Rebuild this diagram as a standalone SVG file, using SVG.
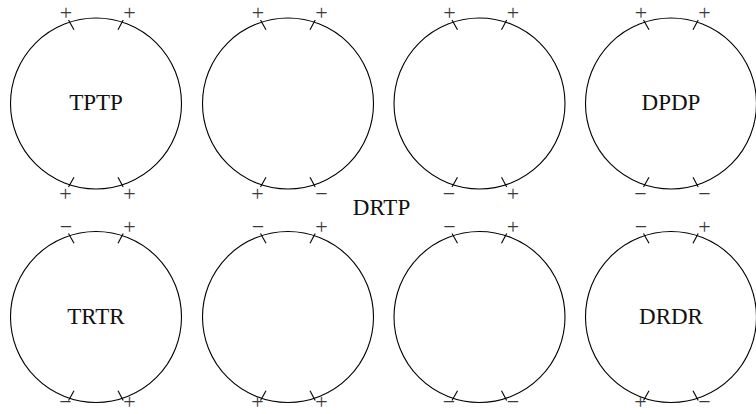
<svg xmlns="http://www.w3.org/2000/svg" xmlns:xlink="http://www.w3.org/1999/xlink" width="756" height="414" viewBox="0 0 756 414">
<style>
.ring{fill:none;stroke:#000;stroke-width:1.1}
.tick{stroke:#000;stroke-width:1.1}
.lbl{font-family:"Liberation Serif","DejaVu Serif",serif;font-size:23px;fill:#111;text-anchor:middle}
.sg{font-family:"Liberation Serif","DejaVu Serif",serif;font-size:22px;fill:#3a3a3a;text-anchor:middle}
</style>
<defs>
<g id="ring">
<circle class="ring" cx="0" cy="0" r="85.5"/>
<line class="tick" x1="-27.5" y1="-83.5" x2="-22" y2="-73.8"/>
<line class="tick" x1="27.2" y1="-83.5" x2="22" y2="-73.8"/>
<line class="tick" x1="-22" y1="73.8" x2="-27.5" y2="83.5"/>
<line class="tick" x1="22" y1="73.8" x2="27.2" y2="83.5"/>
</g>
</defs>
<rect width="756" height="414" fill="#fff"/>

<g id="n1" transform="translate(96,103.5)">
<use xlink:href="#ring"/>
<text class="lbl" x="0" y="6.5">TPTP</text>
<text class="sg" x="-30" y="-83.5">+</text><text class="sg" x="33.5" y="-83.5">+</text>
<text class="sg" x="-30.5" y="97">+</text><text class="sg" x="33.5" y="97">+</text>
</g>
<g id="n2" transform="translate(288,103.5)">
<use xlink:href="#ring"/>
<text class="sg" x="-30" y="-83.5">+</text><text class="sg" x="33.5" y="-83.5">+</text>
<text class="sg" x="-30.5" y="97">+</text><text class="sg" x="33.5" y="97">−</text>
</g>
<g id="n3" transform="translate(479.5,103.5)">
<use xlink:href="#ring"/>
<text class="sg" x="-30" y="-83.5">+</text><text class="sg" x="33.5" y="-83.5">+</text>
<text class="sg" x="-30.5" y="97">−</text><text class="sg" x="33.5" y="97">+</text>
</g>
<g id="n4" transform="translate(671,103.5)">
<use xlink:href="#ring"/>
<text class="lbl" x="0" y="6.5">DPDP</text>
<text class="sg" x="-30" y="-83.5">+</text><text class="sg" x="33.5" y="-83.5">+</text>
<text class="sg" x="-30.5" y="97">−</text><text class="sg" x="33.5" y="97">−</text>
</g>

<g id="n5" transform="translate(96,317)">
<use xlink:href="#ring"/>
<text class="lbl" x="0" y="6.5">TRTR</text>
<text class="sg" x="-30" y="-83.5">−</text><text class="sg" x="33.5" y="-83.5">+</text>
<text class="sg" x="-30.5" y="92">−</text><text class="sg" x="33.5" y="92">+</text>
</g>
<g id="n6" transform="translate(288,317)">
<use xlink:href="#ring"/>
<text class="sg" x="-30" y="-83.5">−</text><text class="sg" x="33.5" y="-83.5">+</text>
<text class="sg" x="-30.5" y="92">+</text><text class="sg" x="33.5" y="92">+</text>
</g>
<g id="n7" transform="translate(479.5,317)">
<use xlink:href="#ring"/>
<text class="sg" x="-30" y="-83.5">−</text><text class="sg" x="33.5" y="-83.5">+</text>
<text class="sg" x="-30.5" y="92">−</text><text class="sg" x="33.5" y="92">−</text>
</g>
<g id="n8" transform="translate(671,317)">
<use xlink:href="#ring"/>
<text class="lbl" x="0" y="6.5">DRDR</text>
<text class="sg" x="-30" y="-83.5">−</text><text class="sg" x="33.5" y="-83.5">+</text>
<text class="sg" x="-30.5" y="92">+</text><text class="sg" x="33.5" y="92">−</text>
</g>

<g id="center-label">
<text class="lbl" x="381.5" y="215">DRTP</text>
</g>
<g id="connectors"></g>
</svg>
